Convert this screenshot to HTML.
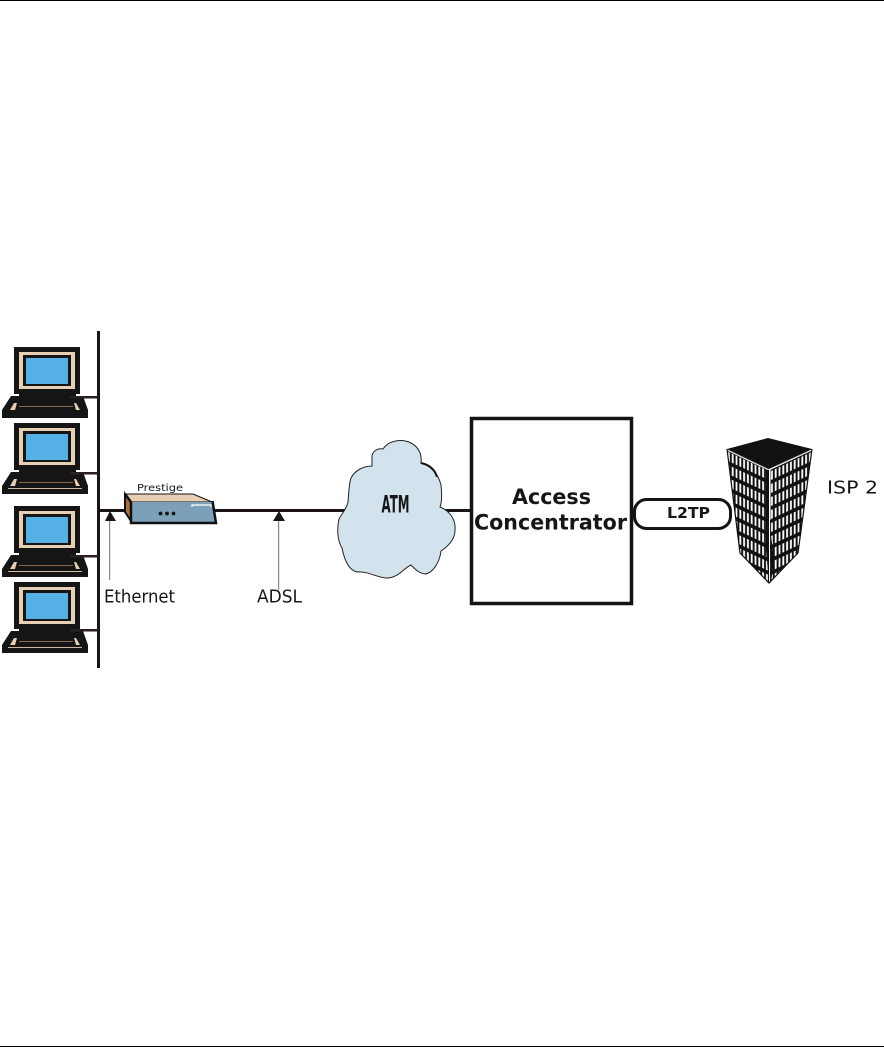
<!DOCTYPE html>
<html><head><meta charset="utf-8"><style>
html,body{margin:0;padding:0;background:#fff;width:884px;height:1047px;overflow:hidden}
svg{display:block}
text{font-family:"DejaVu Sans",sans-serif;fill:#161616}
</style></head><body>
<svg width="884" height="1047" viewBox="0 0 884 1047" xmlns="http://www.w3.org/2000/svg">
<defs>
<g id="lap">
  <rect x="14" y="0" width="66" height="47" fill="#151515"/>
  <rect x="19" y="5" width="56" height="37" fill="#e6cfb4"/>
  <rect x="23" y="8" width="48" height="31" fill="#151515"/>
  <rect x="26" y="11" width="42" height="26" fill="#55b0e6"/>
  <path d="M19,46H76V49H83L88,63V71H2V63L11,49H19Z" fill="#151515"/>
  <path d="M10,63L14,56H17L15,63Z" fill="#e6cfb4"/>
  <path d="M80,63L76,56H74L76,63Z" fill="#e6cfb4"/>
  <rect x="19" y="59" width="54" height="1" fill="#8a6a48"/>
</g>
<pattern id="pl" width="3.8" height="13" patternUnits="userSpaceOnUse" patternTransform="translate(727,449) skewY(25)">
  <rect width="3.8" height="13" fill="#111"/>
  <rect x="1" y="2.500" width="1.800" height="9" fill="#fff"/>
</pattern>
<pattern id="pr" width="3.8" height="13" patternUnits="userSpaceOnUse" patternTransform="translate(770,469) skewY(-25)">
  <rect width="3.8" height="13" fill="#111"/>
  <rect x="1" y="2.500" width="1.800" height="9" fill="#fff"/>
</pattern>
</defs>

<rect x="0" y="0" width="884" height="1" fill="#000"/>
<rect x="0" y="1046" width="884" height="1" fill="#000"/>

<use href="#lap" y="347"/>
<use href="#lap" y="423"/>
<use href="#lap" y="506"/>
<use href="#lap" y="582"/>
<rect x="8" y="488" width="74" height="1" fill="#cdb9a2"/>
<rect x="8" y="571" width="74" height="1" fill="#cdb9a2"/>
<rect x="8" y="647" width="74" height="1" fill="#cdb9a2"/>

<rect x="97" y="331" width="3" height="337" fill="#1a1414"/>
<g fill="#2a2020">
  <rect x="70" y="396" width="28" height="2.500"/>
  <rect x="70" y="472" width="28" height="2.500"/>
  <rect x="70" y="555" width="28" height="2.500"/>
  <rect x="70" y="629" width="28" height="2.500"/>
</g>

<rect x="99" y="509" width="30" height="3" fill="#1a1414"/>
<rect x="212" y="509" width="134" height="3" fill="#1a1414"/>

<path d="M125,494L131,502V521L125,512Z" fill="#a8703c" stroke="#111" stroke-width="2"/>
<path d="M125,494H193L212,502H131Z" fill="#e6cfb4" stroke="#111" stroke-width="1"/>
<path d="M131,502H212L215,522H131Z" fill="#7ba0b8"/>
<path d="M125,494L131,502V523H216L212.500,501" fill="none" stroke="#111" stroke-width="2.500"/>
<path d="M192,507V505H211V507" fill="none" stroke="#fff" stroke-width="1.200"/>
<g fill="#151515"><circle cx="160.500" cy="513.500" r="1.900"/><circle cx="167" cy="513.500" r="1.900"/><circle cx="173.500" cy="513.500" r="1.900"/></g>
<text x="137" y="491" font-size="9.500" textLength="46" lengthAdjust="spacingAndGlyphs">Prestige</text>

<path d="M110,511L105,521H116Z" fill="#1a1414"/>
<rect x="109" y="521" width="1.200" height="59" fill="#888"/>
<path d="M279,511L273,521H285Z" fill="#1a1414"/>
<rect x="278" y="521" width="1.200" height="69" fill="#888"/>
<text x="104" y="602.500" font-size="17.500" textLength="71" lengthAdjust="spacingAndGlyphs">Ethernet</text>
<text x="257" y="602.500" font-size="17.500" textLength="45" lengthAdjust="spacingAndGlyphs">ADSL</text>

<rect x="440" y="509" width="31" height="3" fill="#1a1414"/>
<path d="M372,459C371,451 378,448 383,449C388,441 401,438 411,443C419,447 422,455 421,463C430,465 438,473 441,485C442,495 442,502 440,507C450,511 456,520 455,530C455,540 447,547 441,551C440,560 434,573 425,574C418,573 414,568 411,565C404,568 398,578 387,578C378,578 368,571 357,572C348,570 344,558 342,548C337,540 337,528 339,519C343,512 347,508 348,502C349,490 349,484 351,478C355,470 364,466 372,466Z" fill="#d2e3ee" stroke="#222" stroke-width="1"/>
<path d="M421,463C430,465 435,470 437,477" fill="none" stroke="#111" stroke-width="2"/>
<text x="381.500" y="512.500" font-size="24" font-weight="bold" textLength="28" lengthAdjust="spacingAndGlyphs">ATM</text>

<rect x="471.500" y="418.500" width="160" height="185" fill="#fff" stroke="#141414" stroke-width="3.500"/>
<text x="512" y="504" font-size="21.500" font-weight="bold" textLength="79" lengthAdjust="spacingAndGlyphs">Access</text>
<text x="474" y="529.500" font-size="21.500" font-weight="bold" textLength="153" lengthAdjust="spacingAndGlyphs">Concentrator</text>

<polygon points="727,449 769,469 769,583 740,553" fill="url(#pl)"/>
<polygon points="812,449 770,469 770,583 798,553" fill="url(#pr)"/>
<polygon points="727,449 768,438 812,449 769,469" fill="#111"/>
<path d="M727,450L769,470L812,450M770,470V520" fill="none" stroke="#fff" stroke-width="1"/>
<path d="M766,470H769V583L766,550Z" fill="#111"/>
<path d="M771,535V583L774,560Z" fill="#111"/>
<path d="M727,449L740,553L769,583L798,553L812,449" fill="none" stroke="#111" stroke-width="1.200"/>

<rect x="634.500" y="499.500" width="96" height="29" rx="12" ry="12" fill="#fff" stroke="#141414" stroke-width="3"/>
<text x="667" y="518" font-size="15.500" font-weight="bold" textLength="43" lengthAdjust="spacingAndGlyphs">L2TP</text>

<text x="827" y="493.500" font-size="18" textLength="51" lengthAdjust="spacingAndGlyphs">ISP 2</text>
</svg>
</body></html>
